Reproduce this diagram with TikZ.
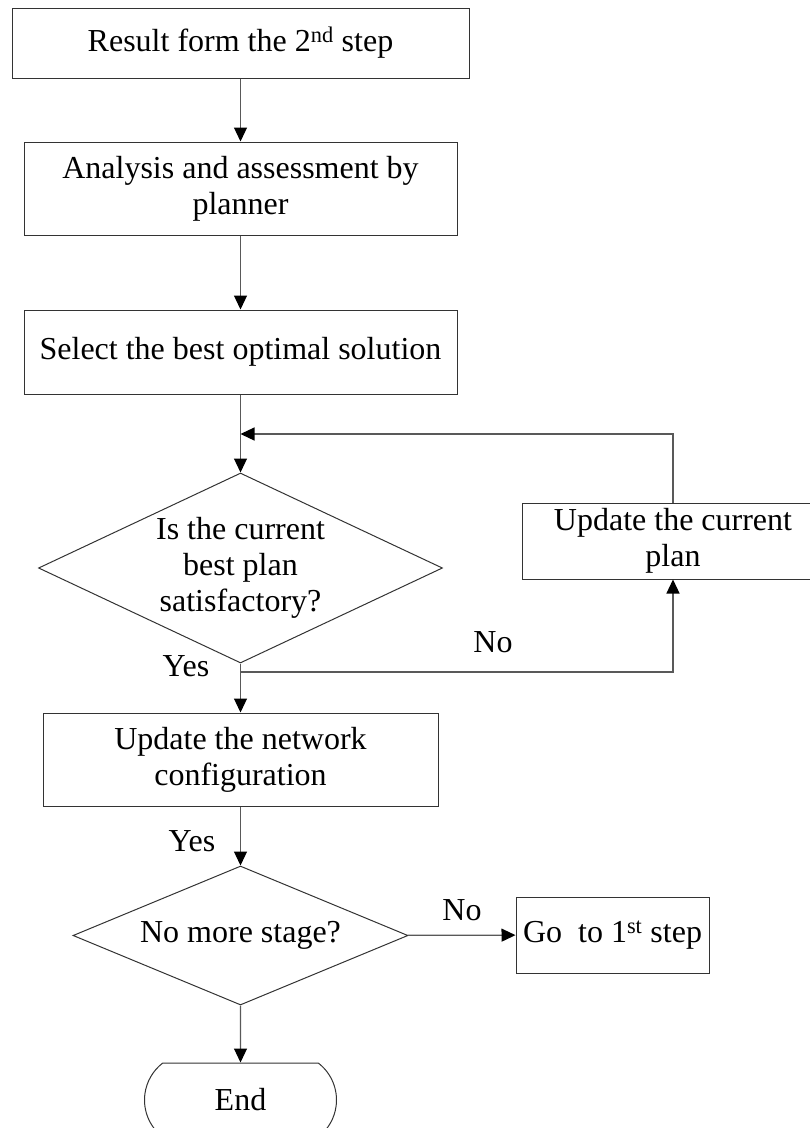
\documentclass[tikz,border=0pt]{standalone}
\usepackage{fontspec}
\setmainfont{Liberation Serif}
\usetikzlibrary{arrows.meta,shapes.geometric,shapes.misc}
\begin{document}
\begin{tikzpicture}[x=1pt,y=-1pt,
  font=\fontsize{32}{36}\selectfont,
  outline/.style={draw=black!80, line width=1pt},
  procbox/.style={outline, rectangle, inner sep=0pt, align=center},
  decision/.style={outline, diamond, inner sep=0pt, align=center},
  terminal/.style={outline, rounded rectangle, rounded rectangle arc length=105, inner sep=0pt},
  conn/.style={draw=black!65, line width=1.2pt},
  flow/.style={conn, -{Triangle[length=14pt,width=13pt,black]}},
  lbl/.style={anchor=base, inner sep=0pt}]
\useasboundingbox (0,0) rectangle (810,1128);
\clip (0,0) rectangle (810,1128);

% process boxes
\node[procbox, minimum width=457, minimum height=70] (b1) at (240.5,43)
  {Result form the 2\textsuperscript{nd} step};
\node[procbox, minimum width=433, minimum height=93] (b2) at (240.5,188.5)
  {Analysis and assessment by\\planner};
\node[procbox, minimum width=433, minimum height=84] (b3) at (240.5,352)
  {Select the best optimal solution};
\node[decision, aspect=2.13, minimum width=404, minimum height=190] (d1) at (240.5,568)
  {Is the current\\best plan\\satisfactory?};
\node[procbox, minimum width=302, minimum height=76] (b4) at (673,541)
  {Update the current\\plan};
\node[procbox, minimum width=395, minimum height=93] (b5) at (240.5,759.5)
  {Update the network\\configuration};
\node[decision, aspect=2.41, minimum width=335, minimum height=139] (d2) at (240.5,935.5)
  {No more stage?};
\node[procbox, minimum width=193, minimum height=76] (go) at (612.5,935)
  {Go\ \ to 1\textsuperscript{st} step};
\node[terminal, minimum width=192, minimum height=74] (end) at (240.5,1100)
  {End};

% branch labels
\node[lbl] (yes1) at (186,676) {Yes};
\node[lbl] (no1) at (493,652) {No};
\node[lbl] (yes2) at (192,851) {Yes};
\node[lbl] (no2) at (462,920) {No};

% connectors
\coordinate (join) at (240.5,434);
\coordinate (split) at (240.5,672);
\draw[flow] (b1) -- (b2);
\draw[flow] (b2) -- (b3);
\draw[flow] (b3) -- (d1);
\draw[flow] (b4.north) |- (join);
\draw[flow] (d1) -- (b5);
\draw[flow] (split) -| (b4.south);
\draw[flow] (b5) -- (d2);
\draw[flow] (d2) -- (go);
\draw[flow] (d2) -- (end);
\end{tikzpicture}
\end{document}
